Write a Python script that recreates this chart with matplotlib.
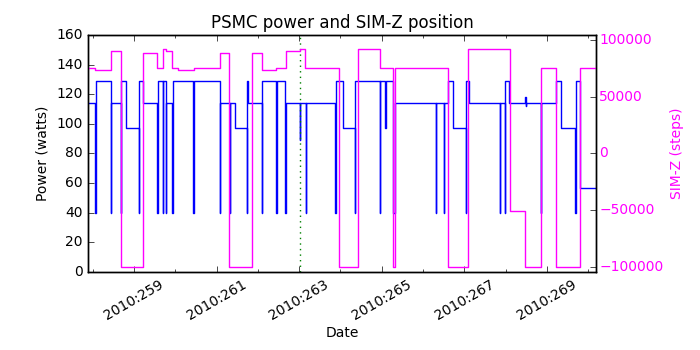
import matplotlib
matplotlib.use("Agg")
import matplotlib.pyplot as plt
from matplotlib.ticker import FixedLocator, FuncFormatter

plt.style.use("classic")
plt.rcParams["font.size"] = 10
plt.rcParams["font.family"] = ["DejaVu Sans"]

# PSMC power (watts), step series vs day-of-year 2010
power_day = [257.89, 258.07, 258.075, 258.44, 258.445, 258.68, 258.685, 258.80,
             259.12, 259.125, 259.21, 259.57, 259.575, 259.71, 259.715, 259.77, 259.775,
             259.93, 259.935, 260.44, 260.445, 261.08, 261.085, 261.32, 261.325, 261.44,
             261.74, 261.745, 261.77, 262.09, 262.095, 262.45, 262.455, 262.67, 262.675,
             263.02, 263.025, 263.16, 263.165, 263.88, 263.885, 264.06, 264.36, 264.365,
             264.95, 264.955, 265.09, 265.095, 265.27, 265.31, 266.32, 266.325,
             266.51, 266.515, 266.60, 266.73, 267.03, 267.035, 267.11, 267.86, 267.865,
             267.99, 267.995, 268.08, 268.48, 268.483, 268.486, 268.86, 268.865,
             269.23, 269.35, 269.69, 269.695, 269.79, 270.17]
power_watts = [114, 40, 129, 40, 114, 40, 129, 97,
               40, 129, 114, 40, 129, 40, 129, 40, 114,
               40, 129, 40, 129, 40, 114, 40, 114, 97,
               40, 129, 114, 40, 129, 40, 129, 40, 114,
               89, 114, 40, 114, 40, 129, 97, 40, 129,
               40, 129, 97, 129, 40, 114, 40, 114,
               40, 114, 129, 97, 40, 129, 114, 40, 114,
               40, 129, 114, 118, 112, 114, 40, 114,
               129, 97, 40, 129, 57, 57]

# SIM-Z position (steps), step series
simz_day = [257.89, 258.06, 258.44, 258.68, 259.21, 259.56, 259.71, 259.77, 259.93,
            260.06, 260.45, 261.08, 261.31, 261.86, 262.10, 262.45, 262.68, 263.02,
            263.15, 263.96, 264.43, 264.97, 265.27, 265.31, 266.60, 267.09, 268.10,
            268.48, 268.86, 269.23, 269.79, 270.17]
simz_steps = [75300, 74000, 90500, -100000, 88800, 75300, 92500, 90500, 75300,
              74000, 75300, 88800, -100000, 88800, 74000, 75300, 90500, 92500,
              75300, -100000, 92500, 75300, -100000, 75300, -100000, 92500, -50700,
              -100000, 75300, -100000, 75300, 75300]

marker_day = 263.02
major_days = [259, 261, 263, 265, 267, 269]
minor_days = [258, 260, 262, 264, 266, 268, 270]
simz_ticks = [-100000, -50000, 0, 50000, 100000]

fig = plt.figure(figsize=(7, 3.5), dpi=100, facecolor="white")
ax = fig.add_subplot(111)
fig.subplots_adjust(left=0.126, right=0.851, bottom=0.223, top=0.9)

ax.plot(power_day, power_watts, color="#0000ff", lw=1.0, drawstyle="steps-post")
ax.axvline(marker_day, color="green", linestyle=":", lw=1.0)
ax.set_xlim(257.894, 270.18)
ax.set_ylim(0, 160)
ax.set_ylabel("Power (watts)")
ax.set_xlabel("Date", labelpad=2)
ax.set_title("PSMC power and SIM-Z position", fontsize=12)
ax.xaxis.set_major_locator(FixedLocator(major_days))
ax.xaxis.set_minor_locator(FixedLocator(minor_days))
ax.xaxis.set_major_formatter(FuncFormatter(lambda v, p: "2010:%03d" % round(v)))
ax.tick_params(axis="x", labelrotation=30)

ax2 = ax.twinx()
ax2.plot(simz_day, simz_steps, color="#ff00ff", lw=1.0, drawstyle="steps-post")
ax2.set_ylim(-104405, 104405)
ax2.yaxis.set_major_locator(FixedLocator(simz_ticks))
ax2.set_ylabel("SIM-Z (steps)", color="#ff00ff")
ax2.tick_params(axis="y", labelcolor="#ff00ff", pad=2.5)
ax2.set_xlim(257.894, 270.18)

fig.savefig("out.png", dpi=100, facecolor="white")
